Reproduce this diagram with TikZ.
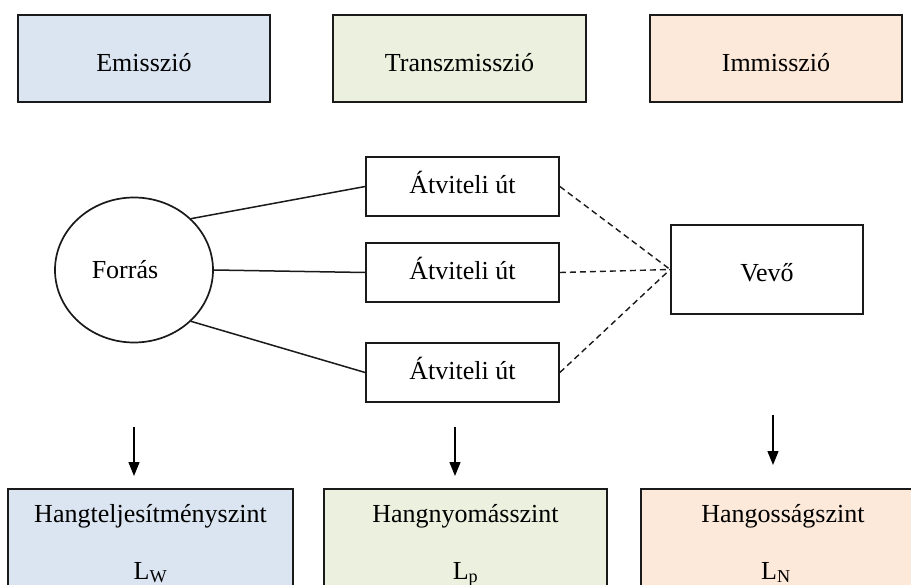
\documentclass[tikz,border=0pt]{standalone}
\usepackage{fontspec}
\setmainfont{Liberation Serif}
\usetikzlibrary{shapes.geometric,arrows.meta}
\definecolor{eblue}{HTML}{DBE5F1}
\definecolor{tgreen}{HTML}{EBF1DE}
\definecolor{iorange}{HTML}{FDE9D9}
\definecolor{edge}{HTML}{1A1A1A}
\begin{document}
\begin{tikzpicture}[x=1pt,y=-1pt,
  txt/.style={font=\fontsize{26}{31}\selectfont, inner sep=0pt},
  topbox/.style={txt, draw=edge, line width=1.7pt, rectangle, minimum width=252pt, minimum height=87pt, text height=27pt, text depth=0pt},
  pathbox/.style={txt, draw=edge, line width=1.7pt, rectangle, minimum width=193pt, minimum height=59pt, text depth=8pt},
  lowbox/.style={draw=edge, line width=1.7pt, rectangle, minimum width=285pt, minimum height=112pt, anchor=north, inner sep=0pt},
  conn/.style={line width=1.5pt, draw=edge},
  dconn/.style={line width=1.4pt, draw=edge, dash pattern=on 6pt off 4pt},
  downarrow/.style={line width=1.4pt, draw=black, -{Triangle[length=14pt,width=11pt]}}
]
\useasboundingbox (0,0) rectangle (911,585);
\clip (0,0) rectangle (911,585);
\fill[white] (0,0) rectangle (911,585);

% top category boxes
\node[topbox, fill=eblue] (em) at (144,58.5) {Emisszió};
\node[topbox, fill=tgreen, minimum width=253pt] (tr) at (459.5,58.5) {Transzmisszió};
\node[topbox, fill=iorange] (im) at (776,58.5) {Immisszió};

% source
\node[txt, draw=edge, line width=1.7pt, ellipse, minimum width=158pt, minimum height=145pt] (f) at (134,270) {Forrás\hspace*{18pt}};

% transmission paths
\node[pathbox] (p1) at (462.5,186.5) {Átviteli út};
\node[pathbox] (p2) at (462.5,272.5) {Átviteli út};
\node[pathbox] (p3) at (462.5,372.5) {Átviteli út};

% receiver
\node[txt, draw=edge, line width=1.7pt, rectangle, minimum width=192pt, minimum height=89pt, text height=25pt, text depth=0pt] (v) at (767,269.5) {Vevő};

\draw[conn] (f.42) -- (p1.west);
\draw[conn] (f.east) -- (p2.west);
\draw[conn] (f.-42) -- (p3.west);

\draw[dconn] (p1.east) -- (v.west);
\draw[dconn] (p2.east) -- (v.west);
\draw[dconn] (p3.east) -- (v.west);

% arrows
\coordinate (a1s) at (134,427); \coordinate (a1e) at (134,476);
\coordinate (a2s) at (455,427); \coordinate (a2e) at (455,476);
\coordinate (a3s) at (773,415); \coordinate (a3e) at (773,465);
\draw[downarrow] (a1s) -- (a1e);
\draw[downarrow] (a2s) -- (a2e);
\draw[downarrow] (a3s) -- (a3e);

% bottom level boxes
\node[lowbox, fill=eblue] (b1) at (150.5,488) {};
\node[lowbox, fill=tgreen, minimum width=283pt] (b2) at (465.5,488) {};
\node[lowbox, fill=iorange, minimum width=284pt] (b3) at (783,488) {};

\node[txt, anchor=base] (b1t) at (150.5,522) {Hangteljesítményszint};
\node[txt, anchor=base] (b1l) at (150.5,579) {L\textsubscript{W}};
\node[txt, anchor=base] (b2t) at (465.5,522) {Hangnyomásszint};
\node[txt, anchor=base] (b2l) at (465.5,579) {L\textsubscript{p}};
\node[txt, anchor=base] (b3t) at (783,522) {Hangosságszint};
\node[txt, anchor=base] (b3l) at (776,579) {L\textsubscript{N}};
\end{tikzpicture}
\end{document}
